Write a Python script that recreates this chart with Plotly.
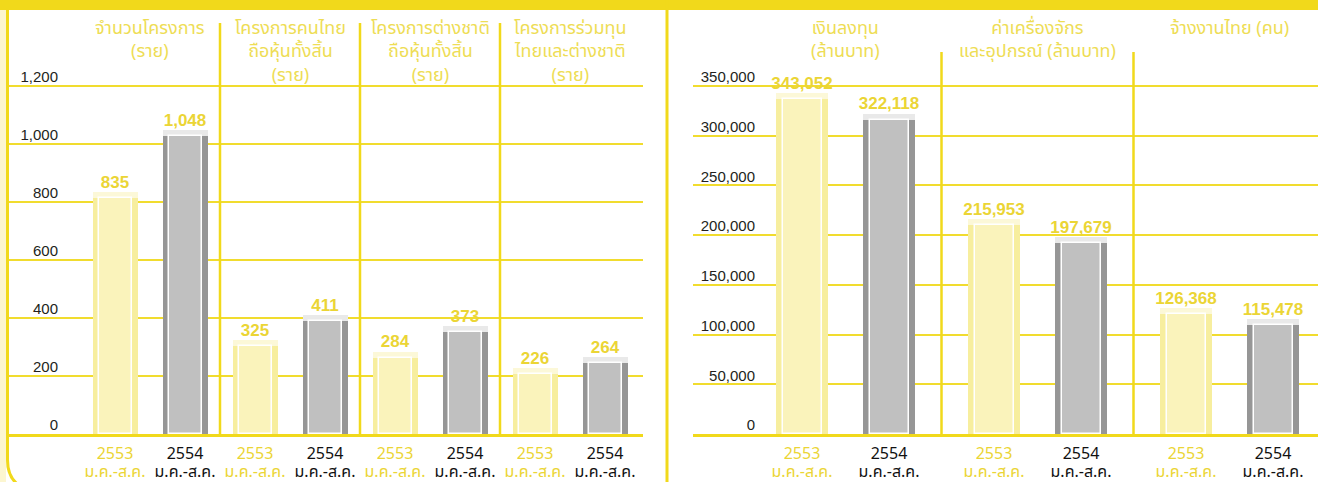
import plotly.graph_objects as go

# ---------------- data ----------------
left_titles = ["จำนวนโครงการ<br>(ราย)",
               "โครงการคนไทย<br>ถือหุ้นทั้งสิ้น<br>(ราย)",
               "โครงการต่างชาติ<br>ถือหุ้นทั้งสิ้น<br>(ราย)",
               "โครงการร่วมทุน<br>ไทยและต่างชาติ<br>(ราย)"]
left_2553 = [835, 325, 284, 226]
left_2554 = [1048, 411, 373, 264]

right_titles = ["เงินลงทุน<br>(ล้านบาท)",
                "ค่าเครื่องจักร<br>และอุปกรณ์ (ล้านบาท)",
                "จ้างงานไทย (คน)"]
right_2553 = [343052, 215953, 126368]
right_2554 = [322118, 197679, 115478]

years = ["2553", "2554"]
period = "ม.ค.-ส.ค."

left_ticks = [0, 200, 400, 600, 800, 1000, 1200]
right_ticks = [0, 50000, 100000, 150000, 200000, 250000, 300000, 350000]

# ---------------- style ----------------
W, H = 1318, 482
FRAME = "#f1d91b"
GRID = "#f1dc2e"
TITLE_C = "#eedd55"
VALUE_C = "#ebd535"
YEL = dict(side="#f7ee9e", top="#fcf8d8", face="#faf3bb")
GRY = dict(side="#969696", top="#e9e9e9", face="#c0c0c0")
THAI = "Noto Sans Thai, Noto Sans Thai Looped, Loma, Garuda, Noto Sans, sans-serif"
NUM = "Liberation Sans, Arial, sans-serif"

top_tick_px, plot_bot_px = 86, 434   # pixel rows of the top tick and the baseline
plot_top_px = 78                     # plot area slightly above the top tick so its gridline shows
ydom = [1 - plot_bot_px / H, 1 - plot_top_px / H]

panels = [
    dict(xa="x", ya="y", titles=left_titles, v53=left_2553, v54=left_2554,
         ymax=1200, ticks=left_ticks, px0=7, px1=643, c0=150, step=140,
         off=35, wout=45, wface=33, ylabel_px=60, sep_top=23),
    dict(xa="x2", ya="y2", titles=right_titles, v53=right_2553, v54=right_2554,
         ymax=350000, ticks=right_ticks, px0=693, px1=1318, c0=845.5, step=192,
         off=43.5, wout=52, wface=39, ylabel_px=757, sep_top=52),
]

fig = go.Figure()
shapes = []
annotations = []
layout_axes = {}

for i, p in enumerate(panels):
    n = len(p["v53"])
    xr = [(p["px0"] - p["c0"]) / p["step"], (p["px1"] - p["c0"]) / p["step"]]
    off = p["off"] / p["step"]
    wout = p["wout"] / p["step"]
    wface = p["wface"] / p["step"]
    per_px = p["ymax"] / (plot_bot_px - top_tick_px)
    yr_top = per_px * (plot_bot_px - plot_top_px)
    d = 6 * per_px

    for k, (vals, sty) in enumerate([(p["v53"], YEL), (p["v54"], GRY)]):
        xs = [g + (-off if k == 0 else off) for g in range(n)]
        fig.add_trace(go.Bar(x=xs, y=vals, width=wout, marker=dict(color=sty["side"], line=dict(width=0)),
                             xaxis=p["xa"], yaxis=p["ya"], hoverinfo="skip", showlegend=False))
        fig.add_trace(go.Bar(x=xs, y=[d] * n, base=[v - d for v in vals], width=wout,
                             marker=dict(color=sty["top"], line=dict(width=0)),
                             xaxis=p["xa"], yaxis=p["ya"], hoverinfo="skip", showlegend=False))
        fig.add_trace(go.Bar(x=xs, y=[v - d for v in vals], width=wface,
                             marker=dict(color=sty["face"], line=dict(width=1.5, color="white")),
                             xaxis=p["xa"], yaxis=p["ya"], hoverinfo="skip", showlegend=False))
        fig.add_trace(go.Scatter(x=xs, y=vals, mode="text", text=[f"{v:,}" for v in vals],
                                 textposition="top center", cliponaxis=False,
                                 textfont=dict(family=NUM, size=17, color=VALUE_C, weight="bold"),
                                 xaxis=p["xa"], yaxis=p["ya"], hoverinfo="skip", showlegend=False))

    tickvals, ticktext = [], []
    for g in range(n):
        tickvals += [g - off, g + off]
        ticktext += [f"<span style='color:{VALUE_C};font-size:16px'>{years[0]}</span><br>"
                     f"<span style='color:{VALUE_C};font-size:16px'>{period}</span>",
                     f"<span style='color:#111111;font-size:16px'>{years[1]}</span><br>"
                     f"<span style='color:#111111;font-size:16px'>{period}</span>"]

    xkey = "xaxis" if i == 0 else "xaxis2"
    ykey = "yaxis" if i == 0 else "yaxis2"
    layout_axes[xkey] = dict(domain=[p["px0"] / W, p["px1"] / W], range=xr, anchor=p["ya"],
                             showgrid=False, zeroline=False, showline=True, linecolor=FRAME,
                             linewidth=3, tickvals=tickvals, ticktext=ticktext, ticks="",
                             tickfont=dict(family=THAI, size=14, color="#111111"),
                             ticklabelstandoff=5, automargin=False, fixedrange=True)
    layout_axes[ykey] = dict(domain=ydom, range=[0, yr_top], anchor="free",
                             position=p["ylabel_px"] / W, tickvals=p["ticks"], tickformat=",d",
                             showgrid=True, gridcolor=GRID, gridwidth=1.5, zeroline=False,
                             showline=False, ticks="", ticklabelshift=-9, ticklabelstandoff=2,
                             tickfont=dict(family=NUM, size=15, color="#231f20"),
                             automargin=False, fixedrange=True)

    for g, t in enumerate(p["titles"]):
        annotations.append(dict(x=g, y=1 - 13 / H, xref=p["xa"], yref="paper", text=t,
                                showarrow=False, xanchor="center", yanchor="top", align="center",
                                font=dict(family=THAI, size=18, color=TITLE_C)))
    for g in range(n - 1):
        shapes.append(dict(type="line", xref=p["xa"], yref="paper", x0=g + 0.5, x1=g + 0.5,
                           y0=1 - plot_bot_px / H, y1=1 - p["sep_top"] / H,
                           line=dict(color=FRAME, width=2.5)))

def px(x, y):
    return f"{x / W:.5f},{1 - y / H:.5f}"

# frame decorations
shapes += [
    dict(type="rect", xref="paper", yref="paper", x0=0, x1=1, y0=1 - 10 / H, y1=1,
         fillcolor=FRAME, line=dict(width=0), layer="above"),
    dict(type="rect", xref="paper", yref="paper", x0=0, x1=6 / W, y0=0, y1=1 - 10 / H,
         fillcolor="#fcf6d0", line=dict(width=0), layer="below"),
    dict(type="path", xref="paper", yref="paper",
         path=f"M{px(7.5, 10)} L{px(7.5, 460)} Q{px(7.5, 478)} {px(20, 486)}",
         line=dict(color=FRAME, width=3), layer="above"),
    dict(type="line", xref="paper", yref="paper", x0=667 / W, x1=667 / W, y0=0, y1=1,
         line=dict(color=FRAME, width=3), layer="above"),
]

fig.update_layout(width=W, height=H, autosize=False, margin=dict(l=0, r=0, t=0, b=0, autoexpand=False),
                  paper_bgcolor="white", plot_bgcolor="rgba(0,0,0,0)", barmode="overlay",
                  bargap=0, shapes=shapes, annotations=annotations, showlegend=False,
                  **layout_axes)

fig.write_html("out.html", config=dict(displayModeBar=False),
               post_script="document.body.style.margin='0';document.body.style.overflow='hidden';")
